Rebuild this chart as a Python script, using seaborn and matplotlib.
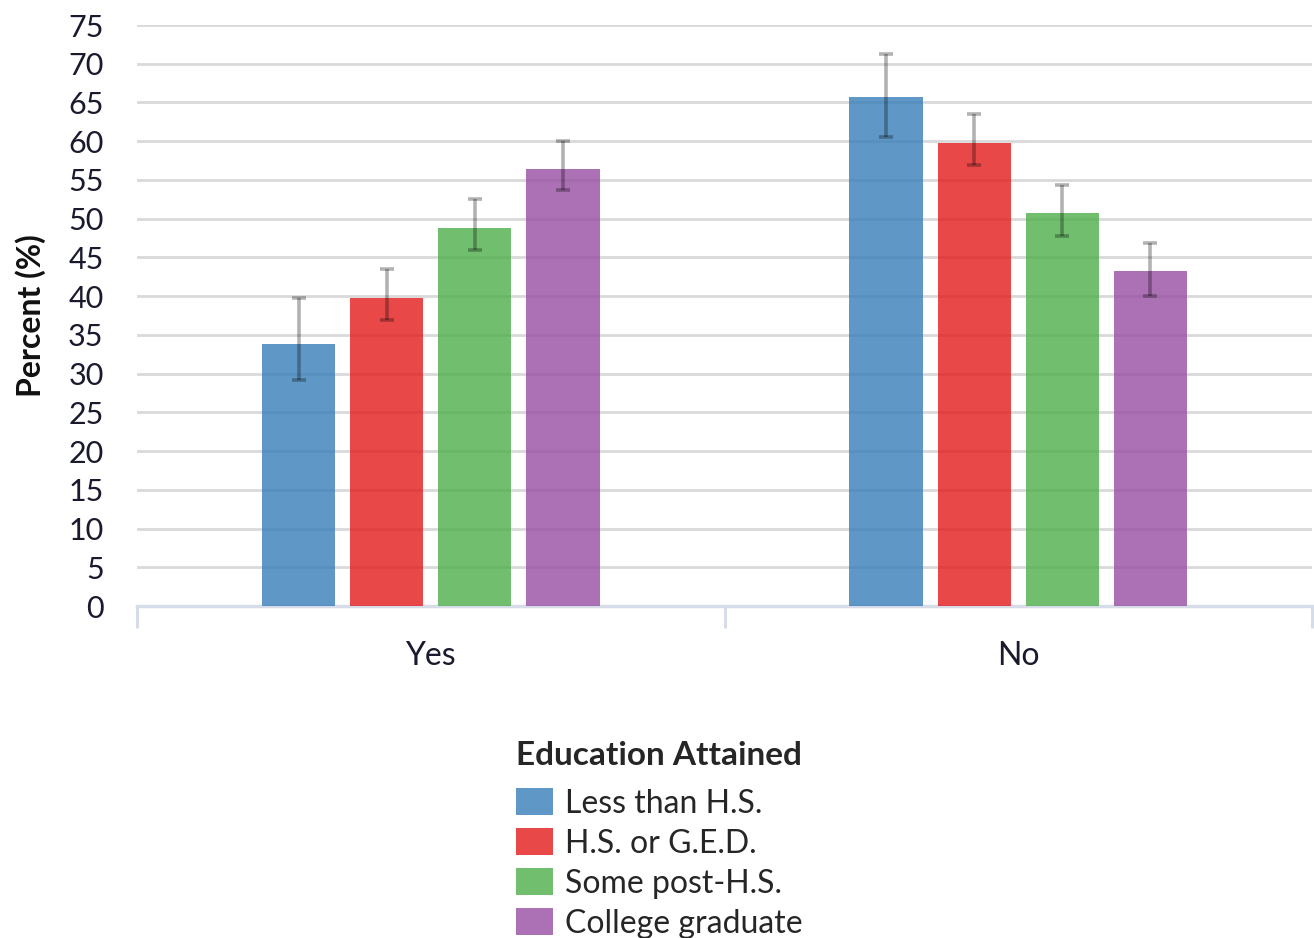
import matplotlib
matplotlib.use("Agg")
import matplotlib.pyplot as plt
import seaborn as sns
import pandas as pd
import numpy as np

# ---- data ----
categories = ["Yes", "No"]
education_levels = ["Less than H.S.", "H.S. or G.E.D.", "Some post-H.S.", "College graduate"]
yes_values = [33.8, 39.8, 48.8, 56.4]
yes_lower = [29.2, 36.9, 46.0, 53.7]
yes_upper = [39.8, 43.5, 52.5, 60.0]
no_values = [65.7, 59.8, 50.7, 43.3]
no_lower = [60.6, 56.9, 47.8, 40.0]
no_upper = [71.3, 63.5, 54.4, 46.9]
y_ticks = list(range(0, 80, 5))

values = {"Yes": yes_values, "No": no_values}
lowers = {"Yes": yes_lower, "No": no_lower}
uppers = {"Yes": yes_upper, "No": no_upper}

rows = []
for c in categories:
    for i, e in enumerate(education_levels):
        rows.append({"Response": c, "Education": e, "Percent": values[c][i]})
df = pd.DataFrame(rows)

sns.set_theme(style="white")
plt.rcParams["font.family"] = ["Lato", "DejaVu Sans"]

palette = sns.color_palette("Set1", 5)
colors = [palette[1], palette[0], palette[2], palette[3]]

fig = plt.figure(figsize=(13.14, 9.38), dpi=100)
ax = fig.add_axes([137/1314, 1 - 606/938, (1312 - 137)/1314, (606 - 25)/938])

sns.barplot(data=df, x="Response", y="Percent", hue="Education",
            order=categories, hue_order=education_levels, palette=colors,
            width=0.6, gap=0.17, errorbar=None, alpha=0.8, linewidth=0,
            saturation=1, ax=ax, zorder=3)

bar_containers = list(ax.containers)
# error bars from bar positions
for i, cont in enumerate(bar_containers):
    for j, bar in enumerate(cont):
        c = categories[j]
        xc = bar.get_x() + bar.get_width() / 2
        h = bar.get_height()
        lo = lowers[c][i]
        hi = uppers[c][i]
        eb = ax.errorbar([xc], [h], yerr=[[h - lo], [hi - h]], fmt="none",
                         ecolor=(0, 0, 0, 0.3), elinewidth=2.6, capsize=4.8,
                         capthick=2.6, zorder=5)
        for cl in eb[1]:
            cl.set_color((0, 0, 0, 0.75))

FS = 22
ax.set_ylim(0, 75)
ax.set_xlim(-0.5, 1.5)
ax.set_yticks(y_ticks)
ax.set_yticklabels([str(t) for t in y_ticks], fontsize=FS, color="#1a1a2e")
ax.yaxis.grid(True, color="#d9d9d9", linewidth=2, zorder=0)
ax.set_axisbelow(True)
ax.tick_params(axis="y", length=0, pad=24)

ax.set_xticks([0, 1])
ax.set_xticklabels(categories, fontsize=23, color="#1a1a2e")
ax.tick_params(axis="x", which="major", length=0, pad=25)
ax.set_xticks([-0.5, 0.5, 1.5], minor=True)
ax.tick_params(axis="x", which="minor", bottom=True, length=15.5, width=2.2, color="#d6dde8")
ax.set_xlabel("")

for s in ["top", "right", "left"]:
    ax.spines[s].set_visible(False)
ax.spines["bottom"].set_color("#d6dde8")
ax.spines["bottom"].set_linewidth(2.5)

ax.set_ylabel("Percent (%)", fontsize=23, fontweight="bold", color="#111111", labelpad=16)

handles, labels = ax.get_legend_handles_labels()
if ax.legend_:
    ax.legend_.remove()
leg = ax.legend(handles, labels, title="Education Attained", loc="upper left",
                bbox_to_anchor=(516/1314, 1 - 741/938), bbox_transform=fig.transFigure,
                frameon=False, fontsize=23, title_fontproperties={"weight": "bold", "size": 24},
                alignment="left", borderpad=0, borderaxespad=0, handlelength=1.15,
                handleheight=0.92, handletextpad=0.38, labelspacing=0.3)
leg._legend_box.sep = 13

fig.savefig("out.png", dpi=100)
